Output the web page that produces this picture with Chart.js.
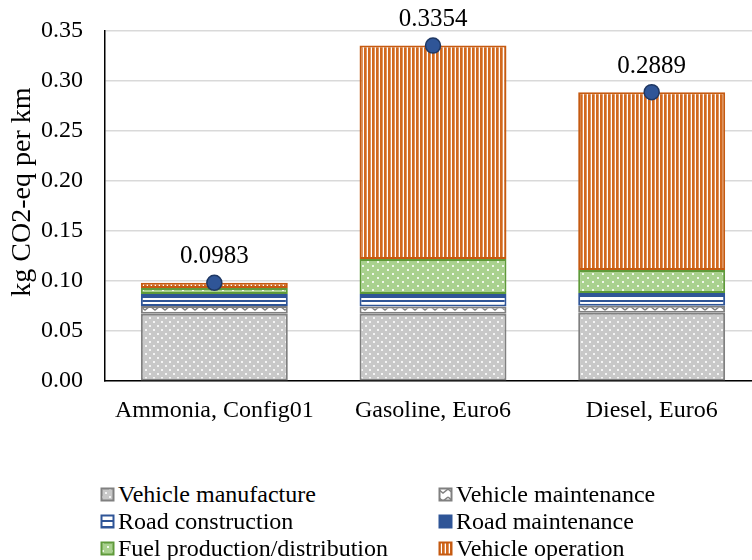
<!DOCTYPE html>
<html>
<head>
<meta charset="utf-8">
<script src="https://cdn.jsdelivr.net/npm/chart.js@4"></script>
<style>
  body { margin: 0; background: #fff; width: 752px; height: 560px; overflow: hidden; position: relative; }
  #wrap { position: absolute; left: 0; top: 0; width: 770px; height: 440px; }
  #legend { position: absolute; left: 100px; top: 481px; display: grid; grid-template-columns: 338px 320px; row-gap: 1px;
            font-family: "Liberation Serif", "Times New Roman", serif; font-size: 24px; color: #000; }
  #legend div { display: flex; align-items: center; height: 26px; white-space: nowrap; }
  #legend canvas { margin-right: 3px; }
</style>
</head>
<body>
<div id="wrap"><canvas id="lcaChart" width="770" height="440"></canvas></div>
<div id="legend"></div>
<script>
const categories = ['Ammonia, Config01', 'Gasoline, Euro6', 'Diesel, Euro6'];
const vehicleManufacture = [0.0675, 0.0675, 0.0685];
const vehicleMaintenance = [0.0077, 0.0072, 0.0068];
const roadConstruction = [0.0100, 0.0105, 0.0108];
const roadMaintenance = [0.0020, 0.0020, 0.0020];
const fuelProduction = [0.0060, 0.0350, 0.0230];
const vehicleOperation = [0.0051, 0.2132, 0.1778];
const totals = [0.0983, 0.3354, 0.2889];
const yTicks = [0, 0.05, 0.10, 0.15, 0.20, 0.25, 0.30, 0.35];
const yTitle = 'kg CO2-eq per km';

// petits motifs facon Excel
function tile(w, h, draw) {
    const c = document.createElement('canvas');
    c.width = w; c.height = h;
    draw(c.getContext('2d'));
    return c;
}
const ctxMain = document.getElementById('lcaChart').getContext('2d');
function pattern(t) { return ctxMain.createPattern(t, 'repeat'); }

const tiles = {
    manufacture: tile(8, 8, g => {
        g.fillStyle = '#c8c8c8'; g.fillRect(0, 0, 8, 8);
        g.fillStyle = '#f4f4f4'; g.fillRect(1, 1, 2, 2); g.fillRect(5, 5, 2, 2);
    }),
    maintenance: tile(10, 8, g => {
        g.fillStyle = '#fff'; g.fillRect(0, 0, 10, 8);
        g.strokeStyle = '#808080'; g.lineWidth = 1.5;
        g.beginPath(); g.moveTo(0, 2); g.lineTo(5, 6); g.lineTo(10, 2); g.stroke();
    }),
    roadC: tile(4, 6, g => {
        g.fillStyle = '#fff'; g.fillRect(0, 0, 4, 6);
        g.fillStyle = '#2f5597'; g.fillRect(0, 0, 4, 2);
    }),
    fuel: tile(10, 8, g => {
        g.fillStyle = '#a9d18e'; g.fillRect(0, 0, 10, 8);
        g.fillStyle = '#f0f7ea'; g.fillRect(2, 1, 2, 2); g.fillRect(7, 5, 2, 2);
    }),
    operation: tile(4, 4, g => {
        g.fillStyle = '#fff'; g.fillRect(0, 0, 4, 4);
        g.fillStyle = '#d2691e'; g.fillRect(0, 0, 2.7, 4);
    })
};

const series = [
    { label: 'Vehicle manufacture', data: vehicleManufacture, fill: pattern(tiles.manufacture), border: '#808080', tile: tiles.manufacture },
    { label: 'Vehicle maintenance', data: vehicleMaintenance, fill: pattern(tiles.maintenance), border: '#808080', tile: tiles.maintenance },
    { label: 'Road construction', data: roadConstruction, fill: pattern(tiles.roadC), border: '#2f5597', tile: tiles.roadC },
    { label: 'Road maintenance', data: roadMaintenance, fill: '#2f5597', border: '#2f5597', tile: null },
    { label: 'Fuel production/distribution', data: fuelProduction, fill: pattern(tiles.fuel), border: '#5f9a3a', tile: tiles.fuel },
    { label: 'Vehicle operation', data: vehicleOperation, fill: pattern(tiles.operation), border: '#c55a11', tile: tiles.operation }
];

const serif = '"Liberation Serif", "Times New Roman", serif';

// etiquettes des totaux + titre de l'axe Y (un peu au-dessus du centre, comme Excel)
const extraText = {
    id: 'extraText',
    afterDatasetsDraw(chart) {
        const meta = chart.getDatasetMeta(series.length);
        const ctx = chart.ctx;
        ctx.save();
        ctx.font = '25px ' + serif;
        ctx.fillStyle = '#000';
        ctx.textAlign = 'center';
        ctx.textBaseline = 'middle';
        meta.data.forEach((pt, i) => {
            ctx.fillText(totals[i].toFixed(4), pt.x, pt.y - 26);
        });
        const area = chart.chartArea;
        ctx.font = '28px ' + serif;
        ctx.translate(23, (area.top + area.bottom) / 2 - 14);
        ctx.rotate(-Math.PI / 2);
        ctx.fillText(yTitle, 0, 0);
        ctx.restore();
    }
};

const datasets = series.map(s => ({
    type: 'bar',
    label: s.label,
    data: s.data,
    backgroundColor: s.fill,
    borderColor: s.border,
    borderWidth: 2,
    borderSkipped: false,
    barPercentage: 0.672,
    categoryPercentage: 1,
    stack: 'lca',
    order: 2
}));
datasets.push({
    type: 'line',
    label: 'Total',
    data: totals,
    showLine: false,
    pointRadius: 7.5,
    pointBackgroundColor: '#2f5597',
    pointBorderColor: '#1f3864',
    pointBorderWidth: 1.5,
    order: 1
});

new Chart(ctxMain, {
    data: { labels: categories, datasets: datasets },
    options: {
        responsive: false,
        animation: false,
        layout: { padding: { top: 31, left: 0, right: 0, bottom: 0 } },
        plugins: { legend: { display: false }, tooltip: { enabled: false } },
        scales: {
            x: {
                stacked: true,
                grid: { display: false, drawTicks: false },
                border: { color: '#000', width: 1.5 },
                ticks: { color: '#000', font: { family: serif, size: 24 }, padding: 15, maxRotation: 0, autoSkip: false }
            },
            y: {
                stacked: true,
                min: 0,
                max: 0.35,
                afterBuildTicks: axis => { axis.ticks = yTicks.map(v => ({ value: v })); },
                afterFit: axis => { axis.width = 105; },
                grid: { color: '#d9d9d9', lineWidth: 1.5, drawTicks: true, tickLength: 22, tickColor: 'rgba(0,0,0,0)' },
                border: { color: '#000', width: 1.5 },
                ticks: { color: '#000', font: { family: serif, size: 24 }, padding: 0, callback: v => v.toFixed(2) }
            }
        }
    },
    plugins: [extraText]
});

// legende HTML en deux colonnes
const legend = document.getElementById('legend');
series.forEach(s => {
    const item = document.createElement('div');
    const box = document.createElement('canvas');
    box.width = 15; box.height = 15;
    const g = box.getContext('2d');
    g.fillStyle = s.tile ? g.createPattern(s.tile, 'repeat') : s.fill;
    g.fillRect(1, 1, 13, 13);
    g.strokeStyle = s.border; g.lineWidth = 2;
    g.strokeRect(1.5, 1.5, 12, 12);
    item.appendChild(box);
    item.appendChild(document.createTextNode(s.label));
    legend.appendChild(item);
});
</script>
</body>
</html>
